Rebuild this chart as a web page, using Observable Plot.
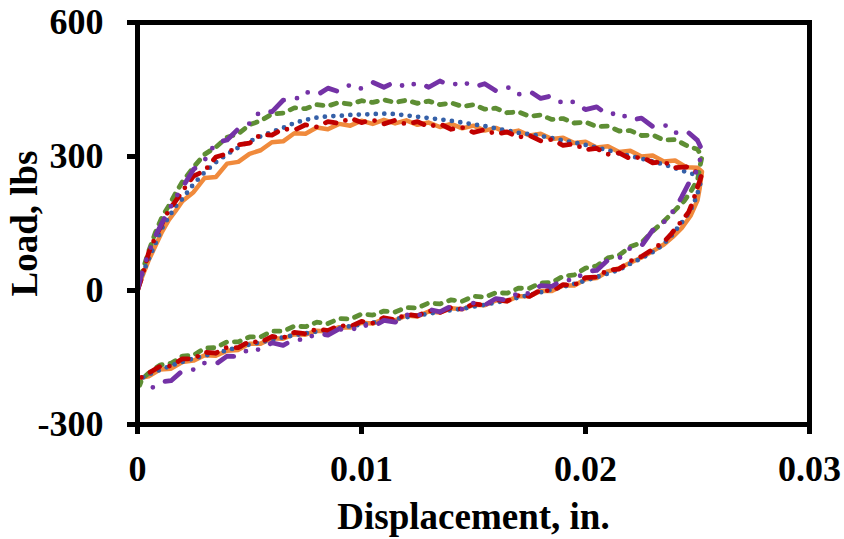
<!DOCTYPE html>
<html>
<head>
<meta charset="utf-8">
<script src="https://cdn.jsdelivr.net/npm/d3@7"></script>
<script src="https://cdn.jsdelivr.net/npm/@observablehq/plot@0.6"></script>
<style>
  html, body { margin: 0; padding: 0; background: #fff; }
  #chart { width: 844px; height: 539px; }
</style>
</head>
<body>
<div id="chart"></div>
<script>
// ---- tick labels / axis text ----
const xTicks = [0, 0.01, 0.02, 0.03];
const yTicks = [-300, 0, 300, 600];
const xTitle = "Displacement, in.";
const yTitle = "Load, lbs";

// ---- loading branch (shared displacement grid, in.) ----
const topX = [0,0.0002,0.0005,0.0008,0.0011,0.0014,0.0017,0.002,0.0025,0.003,0.0035,0.004,0.0045,0.005,0.0055,0.006,0.0065,0.007,0.0075,0.008,0.0085,0.009,0.0095,0.01,0.0105,0.011,0.0115,0.012,0.0125,0.013,0.0135,0.014,0.0145,0.015,0.0155,0.016,0.0165,0.017,0.0175,0.018,0.0185,0.019,0.0195,0.02,0.0205,0.021,0.0215,0.022,0.0225,0.023,0.0235,0.024,0.0245,0.025,0.0252];

// Orange (solid)
const orangeTopY = [0,30,68,100,132,158,178,200,220,252,254,284,288,306,314,332,334,352,351,365,361,373,369,380,373,382,374,381,371,376,366,373,363,369,358,364,353,358,347,351,339,342,330,333,320,323,310,313,300,302,289,291,276,275,266];
const orangeBotX = [0.0252,0.0251,0.025,0.0247,0.0243,0.0239,0.0235,0.023,0.0225,0.022,0.0215,0.021,0.0205,0.02,0.0195,0.019,0.0185,0.018,0.0175,0.017,0.0165,0.016,0.0155,0.015,0.0145,0.014,0.0135,0.013,0.0125,0.012,0.0115,0.011,0.0105,0.01,0.0095,0.009,0.0085,0.008,0.0075,0.007,0.0065,0.006,0.0055,0.005,0.0045,0.004,0.0035,0.003,0.0025,0.002,0.0015,0.001,0.0005,0.0002,0];
const orangeBotY = [266,230,202,168,140,120,103,88,74,62,50,43,28,25,11,11,-1,-1,-13,-13,-24,-22,-33,-32,-42,-40,-49,-47,-58,-56,-67,-64,-74,-72,-83,-82,-92,-90,-99,-98,-108,-107,-119,-119,-133,-135,-146,-145,-157,-160,-175,-177,-192,-195,-200];

// Blue (dotted)
const blueTopY = [0,35,70,105,140,165,188,205,238,265,287,305,320,334,345,355,364,375,382,387,390,391,393,394,395,396,395,392,389,386,383,380,376,372,368,363,358,353,350,346,341,336,331,326,320,314,307,301,295,289,282,274,265,258,252];
const blueBotX = [0.0252,0.0251,0.025,0.0248,0.0245,0.0242,0.0238,0.0234,0.023,0.0225,0.022,0.0215,0.021,0.0205,0.02,0.0195,0.019,0.0185,0.018,0.0175,0.017,0.0165,0.016,0.0155,0.015,0.0145,0.014,0.0135,0.013,0.0125,0.012,0.0115,0.011,0.0105,0.01,0.0095,0.009,0.0085,0.008,0.0075,0.007,0.0065,0.006,0.0055,0.005,0.0045,0.004,0.0035,0.003,0.0025,0.002,0.0015,0.001,0.0005,0.0002,0];
const blueBotY = [252,235,217,190,165,146,120,100,86,72,60,46,38,30,22,15,8,2,-4,-10,-16,-22,-27,-32,-36,-41,-44,-48,-52,-56,-60,-64,-68,-72,-76,-80,-84,-88,-92,-96,-100,-105,-110,-116,-121,-127,-134,-140,-146,-152,-160,-168,-178,-188,-196,-202];

// Red (dash-dot)
const redTopY = [0,30,85,120,150,180,200,222,256,268,299,306,326,330,349,348,362,359,371,366,378,374,386,376,382,373,381,372,378,367,373,361,365,354,360,350,355,343,347,335,338,325,328,315,318,305,308,295,299,286,288,275,277,264,262];
const redBotX = [0.0252,0.0251,0.025,0.0248,0.0246,0.0242,0.0238,0.0235,0.023,0.0225,0.022,0.0215,0.021,0.0205,0.02,0.0195,0.019,0.0185,0.018,0.0175,0.017,0.0165,0.016,0.0155,0.015,0.0145,0.014,0.0135,0.013,0.0125,0.012,0.0115,0.011,0.0105,0.01,0.0095,0.009,0.0085,0.008,0.0075,0.007,0.0065,0.006,0.0055,0.005,0.0045,0.004,0.0035,0.003,0.0025,0.002,0.0015,0.001,0.0005,0.0002,0];
const redBotY = [262,245,232,200,175,150,125,109,92,76,66,48,46,30,29,12,13,-1,1,-13,-11,-24,-20,-33,-30,-42,-38,-49,-45,-57,-53,-66,-61,-73,-69,-81,-78,-90,-86,-97,-94,-106,-103,-116,-114,-128,-127,-140,-138,-153,-153,-169,-170,-185,-194,-198];

// Green (dashed)
const greenTopY = [0,40,88,130,165,190,218,243,276,305,321,343,351,371,380,395,397,409,407,416,413,421,417,425,421,427,421,426,419,424,416,420,412,416,406,408,398,400,390,393,383,385,375,377,367,368,357,358,347,348,337,338,325,316,300];
const greenBotX = [0.0252,0.0251,0.025,0.0247,0.0244,0.024,0.0235,0.023,0.0225,0.022,0.0215,0.021,0.0205,0.02,0.0195,0.019,0.0185,0.018,0.0175,0.017,0.0165,0.016,0.0155,0.015,0.0145,0.014,0.0135,0.013,0.0125,0.012,0.0115,0.011,0.0105,0.01,0.0095,0.009,0.0085,0.008,0.0075,0.007,0.0065,0.006,0.0055,0.005,0.0045,0.004,0.0035,0.003,0.0025,0.002,0.0015,0.001,0.0005,0.0002,0.0001];
const greenBotY = [300,275,247,222,200,180,155,133,107,98,79,73,55,50,35,32,18,17,5,5,-6,-5,-15,-13,-24,-21,-30,-28,-39,-38,-48,-46,-55,-53,-64,-63,-74,-71,-81,-80,-91,-91,-104,-104,-115,-115,-128,-129,-145,-147,-163,-167,-185,-198,-212];

// Purple (long dash - dot - dot)
const purpleTopY = [0,40,85,122,152,180,208,230,271,292,331,337,362,374,402,400,426,426,445,437,453,445,461,452,466,455,467,454,466,455,469,458,469,455,463,447,456,439,446,430,436,418,423,405,411,393,399,381,386,367,372,353,358,336,315];
const purpleBotX = [0.0252,0.0251,0.0249,0.0246,0.0243,0.024,0.0235,0.023,0.0225,0.022,0.0215,0.021,0.0205,0.02,0.0195,0.019,0.0185,0.018,0.0175,0.017,0.0165,0.016,0.0155,0.015,0.0145,0.014,0.0135,0.013,0.0125,0.012,0.0115,0.011,0.0105,0.01,0.0095,0.009,0.0085,0.008,0.0075,0.007,0.0065,0.006,0.0055,0.005,0.0045,0.004,0.0035,0.003,0.0025,0.002,0.0015,0.001,0.0006];
const purpleBotY = [315,290,260,239,210,183,153,135,100,95,72,68,45,43,22,25,9,11,-7,-5,-22,-18,-33,-28,-42,-35,-48,-42,-58,-54,-71,-67,-82,-76,-91,-86,-100,-95,-111,-109,-123,-117,-133,-130,-148,-147,-165,-162,-177,-180,-202,-205,-220];

// ---- assemble loops ----
function loop(topY, botX, botY) {
  const pts = [];
  const n1 = Math.min(topX.length, topY.length);
  for (let i = 0; i < n1; i++) pts.push({x: topX[i], y: topY[i]});
  const n2 = Math.min(botX.length, botY.length);
  for (let i = 0; i < n2; i++) pts.push({x: botX[i], y: botY[i]});
  return pts;
}

const series = [
  {data: loop(orangeTopY, orangeBotX, orangeBotY), stroke: "#F08A3C", width: 4.5, dash: null},
  {data: loop(greenTopY, greenBotX, greenBotY), stroke: "#5E8E34", width: 4.8, dash: "6,8"},
  {data: loop(blueTopY, blueBotX, blueBotY), stroke: "#3560A8", width: 4.8, dash: "0,8.5"},
  {data: loop(redTopY, redBotX, redBotY), stroke: "#C00000", width: 4.8, dash: "11,10,0,10"},
  {data: loop(purpleTopY, purpleBotX, purpleBotY), stroke: "#7432A6", width: 4.8, dash: "18,14,0,13,0,14"}
];

const fmtY = d => (d < 0 ? "-" + Math.abs(d) : String(d));
const fmtX = d => (d === 0 ? "0" : String(d));

const plot = Plot.plot({
  width: 844,
  height: 539,
  marginLeft: 137,
  marginRight: 35,
  marginTop: 22,
  marginBottom: 115,
  style: {fontFamily: "'Liberation Serif', 'Times New Roman', serif", fontWeight: "bold", fontSize: "36px", color: "#000", background: "#fff", overflow: "visible"},
  x: {domain: [0, 0.03]},
  y: {domain: [-300, 600]},
  marks: [
    ...series.map(s => Plot.line(s.data, {
      x: "x", y: "y", stroke: s.stroke, strokeWidth: s.width,
      strokeDasharray: s.dash, strokeLinecap: "round", strokeLinejoin: "round", curve: "linear"
    })),
    Plot.frame({stroke: "#000", strokeWidth: 5}),
    Plot.axisX({ticks: xTicks, tickFormat: fmtX, tickSize: 10, tickPadding: 21, strokeWidth: 5, label: null, fontSize: 36}),
    Plot.axisY({ticks: yTicks, tickFormat: fmtY, tickSize: 10, tickPadding: 24, strokeWidth: 5, label: null, fontSize: 36}),
    Plot.text([xTitle], {frameAnchor: "bottom", textAnchor: "middle", dy: 104, fontSize: 37, fontWeight: "bold", text: d => d}),
    Plot.text([yTitle], {frameAnchor: "left", textAnchor: "middle", dx: -112, rotate: -90, fontSize: 37, fontWeight: "bold", text: d => d})
  ]
});
document.getElementById("chart").appendChild(plot);
</script>
</body>
</html>
